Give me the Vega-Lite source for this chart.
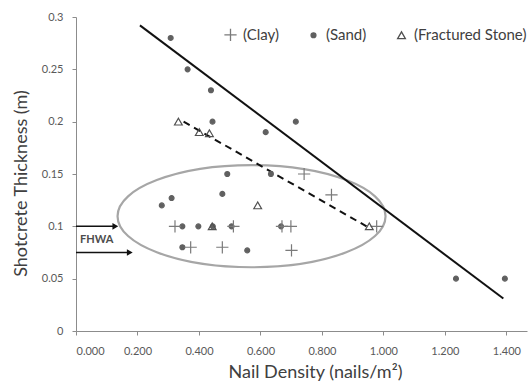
{
  "$schema": "https://vega.github.io/schema/vega-lite/v6.json",
  "width": 451,
  "height": 314,
  "autosize": "none",
  "padding": {"left": 76, "top": 17, "right": 5, "bottom": 54},
  "background": "white",
  "config": {
    "view": {"stroke": null},
    "font": "Lato",
    "axis": {
      "grid": false,
      "domainColor": "#8c8c8c",
      "tickColor": "#8c8c8c",
      "labelColor": "#595959",
      "labelFont": "Lato",
      "labelFontSize": 11,
      "titleColor": "#404040",
      "titleFont": "Lato",
      "titleFontSize": 18,
      "titleFontWeight": "normal"
    }
  },
  "layer": [
    {
      "data": {"values": [{"cx": 0.571, "cy": 0.1097}]},
      "mark": {
        "type": "point",
        "shape": "M-1,0A1,0.381,0,1,1,1,0A1,0.381,0,1,1,-1,0Z",
        "size": 71824,
        "stroke": "#a6a6a6",
        "strokeWidth": 2.2,
        "fill": "transparent",
        "opacity": 1
      },
      "encoding": {
        "x": {"field": "cx", "type": "quantitative", "scale": {"domain": [0, 1.467], "nice": false, "zero": false},
          "axis": {"values": [0, 0.2, 0.4, 0.6, 0.8, 1.0, 1.2, 1.4], "format": ".3f", "tickSize": 4, "labelPadding": 10, "title": "Nail Density (nails/m²)", "titlePadding": 7, "titleX": 239}},
        "y": {"field": "cy", "type": "quantitative", "scale": {"domain": [0, 0.3], "nice": false},
          "axis": {"values": [0, 0.05, 0.1, 0.15, 0.2, 0.25, 0.3], "format": "~g", "tickSize": 4, "labelPadding": 9, "title": "Shotcrete Thickness (m)", "titlePadding": 11, "titleY": 166}}
      }
    },
    {
      "data": {"values": [{"x": 0.208, "y": 0.292}, {"x": 1.39, "y": 0.031}]},
      "mark": {"type": "line", "color": "#111111", "strokeWidth": 2},
      "encoding": {"x": {"field": "x", "type": "quantitative"}, "y": {"field": "y", "type": "quantitative"}}
    },
    {
      "data": {"values": [{"x": 0.35, "y": 0.2}, {"x": 0.945, "y": 0.1}]},
      "mark": {"type": "line", "color": "#111111", "strokeWidth": 2, "strokeDash": [7, 5]},
      "encoding": {"x": {"field": "x", "type": "quantitative"}, "y": {"field": "y", "type": "quantitative"}}
    },
    {
      "data": {"values": [{"x": 0, "x2": 0.128, "y": 0.1}, {"x": 0, "x2": 0.175, "y": 0.075}]},
      "mark": {"type": "rule", "color": "#111111", "strokeWidth": 1.5},
      "encoding": {"x": {"field": "x", "type": "quantitative"}, "x2": {"field": "x2"}, "y": {"field": "y", "type": "quantitative"}}
    },
    {
      "data": {"values": [{"x2": 0.128, "y": 0.1}, {"x2": 0.175, "y": 0.075}]},
      "mark": {"type": "point", "shape": "triangle-right", "size": 45, "filled": true, "color": "#111111", "opacity": 1},
      "encoding": {"x": {"field": "x2", "type": "quantitative"}, "y": {"field": "y", "type": "quantitative"}}
    },
    {
      "data": {"values": [{"x": 0.013, "y": 0.087, "label": "FHWA"}]},
      "mark": {"type": "text", "align": "left", "baseline": "middle", "fontSize": 11, "color": "#4d4d4d", "fontWeight": "bold", "font": "Lato"},
      "encoding": {"x": {"field": "x", "type": "quantitative"}, "y": {"field": "y", "type": "quantitative"}, "text": {"field": "label"}}
    },
    {
      "data": {"values": [
        {"nd": 0.308, "t": 0.28, "soil": "Sand"},
        {"nd": 0.363, "t": 0.25, "soil": "Sand"},
        {"nd": 0.439, "t": 0.23, "soil": "Sand"},
        {"nd": 0.444, "t": 0.2, "soil": "Sand"},
        {"nd": 0.617, "t": 0.19, "soil": "Sand"},
        {"nd": 0.715, "t": 0.2, "soil": "Sand"},
        {"nd": 0.492, "t": 0.15, "soil": "Sand"},
        {"nd": 0.634, "t": 0.15, "soil": "Sand"},
        {"nd": 0.311, "t": 0.127, "soil": "Sand"},
        {"nd": 0.279, "t": 0.12, "soil": "Sand"},
        {"nd": 0.476, "t": 0.131, "soil": "Sand"},
        {"nd": 0.346, "t": 0.1, "soil": "Sand"},
        {"nd": 0.398, "t": 0.1, "soil": "Sand"},
        {"nd": 0.445, "t": 0.1, "soil": "Sand"},
        {"nd": 0.506, "t": 0.1, "soil": "Sand"},
        {"nd": 0.667, "t": 0.1, "soil": "Sand"},
        {"nd": 0.346, "t": 0.08, "soil": "Sand"},
        {"nd": 0.557, "t": 0.077, "soil": "Sand"},
        {"nd": 1.236, "t": 0.05, "soil": "Sand"},
        {"nd": 1.395, "t": 0.05, "soil": "Sand"},
        {"nd": 0.322, "t": 0.1, "soil": "Clay"},
        {"nd": 0.512, "t": 0.1, "soil": "Clay"},
        {"nd": 0.67, "t": 0.1, "soil": "Clay"},
        {"nd": 0.699, "t": 0.1, "soil": "Clay"},
        {"nd": 0.373, "t": 0.08, "soil": "Clay"},
        {"nd": 0.476, "t": 0.08, "soil": "Clay"},
        {"nd": 0.701, "t": 0.077, "soil": "Clay"},
        {"nd": 0.742, "t": 0.15, "soil": "Clay"},
        {"nd": 0.831, "t": 0.13, "soil": "Clay"},
        {"nd": 0.978, "t": 0.1, "soil": "Clay"},
        {"nd": 0.333, "t": 0.2, "soil": "Fractured Stone"},
        {"nd": 0.401, "t": 0.19, "soil": "Fractured Stone"},
        {"nd": 0.434, "t": 0.189, "soil": "Fractured Stone"},
        {"nd": 0.591, "t": 0.12, "soil": "Fractured Stone"},
        {"nd": 0.443, "t": 0.1, "soil": "Fractured Stone"},
        {"nd": 0.954, "t": 0.1, "soil": "Fractured Stone"}
      ]},
      "mark": {"type": "point", "filled": true, "opacity": 1, "strokeWidth": 1.2},
      "encoding": {
        "x": {"field": "nd", "type": "quantitative"},
        "y": {"field": "t", "type": "quantitative"},
        "shape": {"field": "soil", "type": "nominal",
          "scale": {"domain": ["Clay", "Sand", "Fractured Stone"], "range": ["M-1,0L1,0M0,-1L0,1", "circle", "triangle-up"]},
          "legend": {"title": null, "orient": "none", "legendX": 147, "legendY": 10, "direction": "horizontal", "labelExpr": "'(' + datum.label + ')'", "labelFont": "Lato", "labelFontSize": 15, "labelColor": "#404040", "columnPadding": 27, "labelOffset": 5, "symbolStrokeWidth": 1.3}},
        "fill": {"field": "soil", "type": "nominal",
          "scale": {"domain": ["Clay", "Sand", "Fractured Stone"], "range": ["transparent", "#606060", "transparent"]}},
        "stroke": {"field": "soil", "type": "nominal",
          "scale": {"domain": ["Clay", "Sand", "Fractured Stone"], "range": ["#7a7a7a", "#606060", "#505050"]}},
        "size": {"field": "soil", "type": "nominal",
          "scale": {"type": "ordinal", "domain": ["Clay", "Sand", "Fractured Stone"], "range": [150, 24, 60]}}
      }
    }
  ]
}
